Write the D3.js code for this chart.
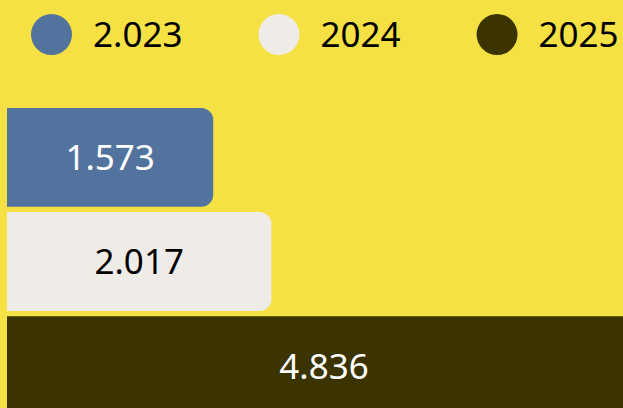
<!DOCTYPE html>
<html>
<head>
<meta charset="utf-8">
<script src="https://cdn.jsdelivr.net/npm/d3@7/dist/d3.min.js"></script>
<style>
  html, body { margin: 0; padding: 0; background: #f6e145; overflow: hidden; }
  svg { display: block; }
  text { font-family: "Noto Sans", "Open Sans", sans-serif; }
</style>
</head>
<body>
<svg id="chart" width="623" height="408"></svg>
<script>
// Series labels (as shown in the legend) and their values
const seriesLabels = ["2.023", "2024", "2025"];
const seriesValues = [1.573, 2.017, 4.836];
const valueLabels = ["1.573", "2.017", "4.836"];
const seriesColors = ["#52739d", "#efebe7", "#3b3400"];
const labelColors = ["#ffffff", "#000000", "#ffffff"];

const W = 623, H = 408;
const FONT = 35;
const svg = d3.select("#chart");

svg.append("rect").attr("width", W).attr("height", H).attr("fill", "#f6e145");

const x = d3.scaleLinear()
  .domain([0, d3.max(seriesValues)])
  .range([7, 641]);

const y = d3.scaleBand()
  .domain(seriesLabels)
  .range([108, 415])
  .paddingInner(0.05)
  .paddingOuter(0);

const r = 12;
// Bar with square left edge and rounded right corners
function barPath(x0, x1, y0, h) {
  const w = x1 - x0;
  const rr = Math.min(r, w / 2, h / 2);
  return `M${x0},${y0}H${x1 - rr}A${rr},${rr} 0 0 1 ${x1},${y0 + rr}` +
         `V${y0 + h - rr}A${rr},${rr} 0 0 1 ${x1 - rr},${y0 + h}H${x0}Z`;
}

const bars = svg.append("g").selectAll("g")
  .data(seriesLabels.map((s, i) => ({ s, v: seriesValues[i], label: valueLabels[i], i })))
  .join("g");

bars.append("path")
  .attr("d", d => barPath(x(0), x(d.v), y(d.s), y.bandwidth()))
  .attr("fill", d => seriesColors[d.i]);

bars.append("text")
  .attr("x", d => (x(0) + x(d.v)) / 2)
  .attr("y", d => y(d.s) + y.bandwidth() / 2)
  .attr("dy", "0.37em")
  .attr("text-anchor", "middle")
  .attr("font-size", FONT)
  .attr("fill", d => labelColors[d.i])
  .text(d => d.label);

// Legend: circle swatch + label, items laid out left to right
const legend = svg.append("g");
const cy = 34.5, cr = 20.5, textGap = 21, itemGap = 76;
let cx = 31;
seriesLabels.forEach((s, i) => {
  const g = legend.append("g");
  g.append("circle")
    .attr("cx", cx + cr).attr("cy", cy).attr("r", cr)
    .attr("fill", seriesColors[i]);
  const t = g.append("text")
    .attr("x", cx + 2 * cr + textGap)
    .attr("y", cy)
    .attr("dy", "0.37em")
    .attr("font-size", FONT)
    .attr("fill", "#000")
    .text(s);
  const tw = t.node().getComputedTextLength();
  cx = cx + 2 * cr + textGap + tw + itemGap;
});
</script>
</body>
</html>
